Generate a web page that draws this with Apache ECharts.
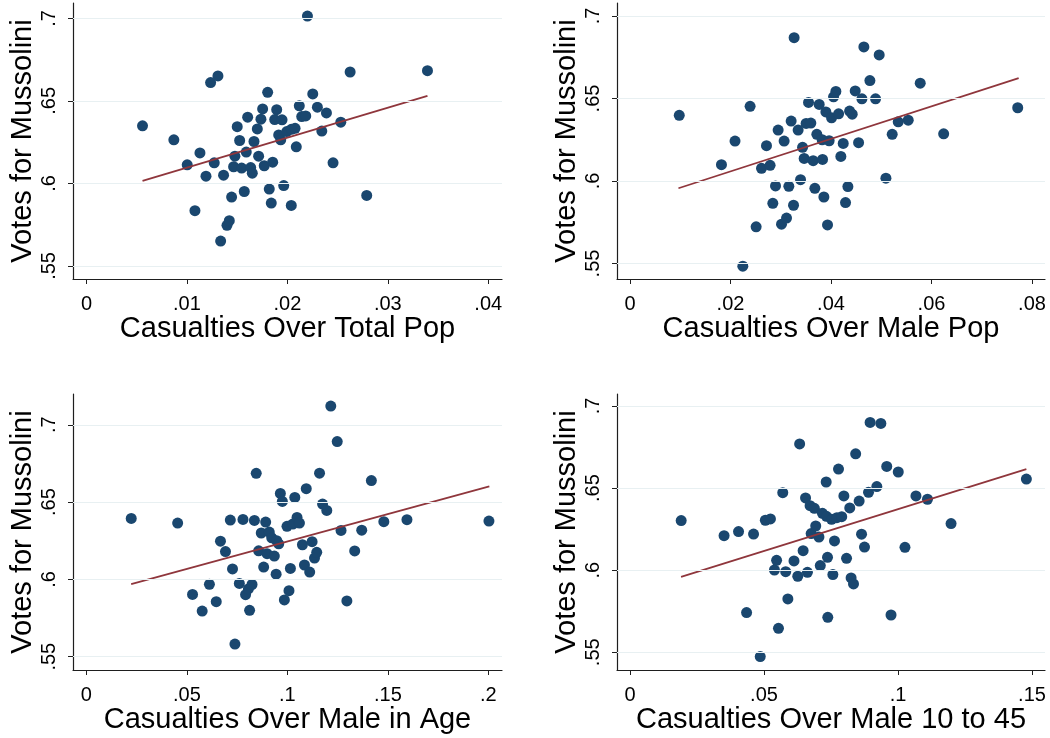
<!DOCTYPE html>
<html>
<head>
<meta charset="utf-8">
<title>Votes for Mussolini vs. war casualties</title>
<script src="https://cdn.jsdelivr.net/npm/echarts@6/dist/echarts.min.js"></script>
<style>
  html, body { margin: 0; padding: 0; background: #ffffff; }
  #chart { width: 1050px; height: 738px; }
</style>
</head>
<body>
<div id="chart"></div>
<script>
// Province-level observations: [casualty share, Mussolini vote share]
const totalPop = [
  [.00558,.6349],[.0087,.6264],[.01003,.6113],[.0113,.6185],[.0119,.6044],[.0108,.5835],
  [.01236,.6611],[.01309,.6651],[.01272,.6125],[.01365,.605],[.01336,.5651],[.01399,.5746],
  [.01422,.5774],[.01445,.5917],[.01465,.6101],[.01478,.6165],[.01501,.6344],[.01525,.626],
  [.01545,.6093],[.01571,.5951],[.01591,.619],[.01605,.6401],[.01635,.6096],[.01651,.6062],
  [.01668,.6254],[.01701,.633],[.01714,.6165],[.01737,.6389],[.01754,.6451],[.0177,.6107],
  [.01804,.6552],[.0182,.5966],[.0184,.5881],[.01854,.6129],[.01874,.6387],[.01894,.6447],
  [.01914,.6294],[.01934,.6264],[.01947,.6385],[.01964,.5987],[.01994,.6314],[.0204,.6328],
  [.02077,.6334],[.02039,.5867],[.02089,.6222],[.02119,.647],[.02143,.6405],[.02183,.6409],
  [.022,.7014],[.02253,.6542],[.02299,.6462],[.02343,.6317],[.02389,.6427],[.02455,.6125],
  [.02532,.6371],[.02625,.6675],[.0279,.5927],[.03395,.6683]
];
const malePop = [
  [.0098,.6398],[.0182,.6099],[.0209,.6242],[.0239,.6453],[.02245,.5484],[.0251,.5722],
  [.02617,.6077],[.02788,.6095],[.02716,.6214],[.02896,.597],[.02842,.5865],[.02948,.6309],
  [.03067,.6242],[.03015,.5738],[.03115,.5775],[.03161,.5968],[.03207,.6363],[.03254,.5853],
  [.03266,.6869],[.03346,.6309],[.03394,.6008],[.03434,.6204],[.03466,.6137],[.03505,.6349],
  [.03599,.6351],[.03553,.6476],[.03645,.6123],[.03679,.5956],[.03718,.6283],[.03765,.6464],
  [.03824,.625],[.03832,.6131],[.03858,.5903],[.03898,.6419],[.03963,.6244],[.04011,.6383],
  [.03931,.5734],[.04051,.651],[.04097,.6543],[.04151,.6407],[.04243,.6228],[.04196,.6149],
  [.04289,.5869],[.04336,.5966],[.0437,.6424],[.04422,.6405],[.04482,.6546],[.04549,.6232],
  [.04615,.6498],[.04654,.6813],[.04774,.6609],[.04887,.6498],[.04959,.6764],[.05093,.6017],
  [.05218,.6283],[.05338,.6359],[.05537,.6369],[.05776,.6593],[.06242,.6286],[.07716,.6444]
];
const maleInAge = [
  [.0223,.6394],[.0454,.6364],[.0528,.5903],[.0576,.5795],[.0612,.5968],[.0646,.5856],
  [.0667,.6247],[.0692,.618],[.0716,.6384],[.0727,.6068],[.0739,.5582],[.0761,.5974],
  [.0779,.6388],[.0792,.5901],[.0806,.5938],[.0812,.58],[.0824,.5967],[.0836,.6381],
  [.0845,.6686],[.0857,.6185],[.087,.63],[.0882,.608],[.0892,.6371],[.0899,.6166],
  [.091,.6306],[.0922,.6269],[.0935,.6151],[.0944,.6034],[.0947,.625],[.0957,.623],
  [.0965,.6556],[.0975,.6504],[.0985,.5867],[.0998,.6343],[.1008,.5927],[.1015,.6071],
  [.1027,.6358],[.1037,.653],[.1048,.6401],[.106,.6364],[.1075,.6224],[.1085,.6093],
  [.1094,.6587],[.1111,.6047],[.1123,.6244],[.1135,.6138],[.1146,.6175],[.116,.6687],
  [.1175,.6487],[.1196,.6446],[.1216,.7121],[.1248,.6891],[.1267,.6317],[.1296,.5861],
  [.1335,.6184],[.137,.6318],[.1418,.6639],[.148,.6373],[.1595,.6386],[.2003,.6377]
];
const male1045 = [
  [.0191,.6302],[.0351,.621],[.0405,.6235],[.0461,.622],[.0435,.5742],[.0486,.5474],
  [.0505,.6304],[.0524,.6312],[.0539,.6001],[.0547,.606],[.0554,.5646],[.057,.6472],
  [.0581,.5991],[.0589,.5825],[.0612,.6056],[.0626,.5963],[.0633,.6769],[.0646,.6119],
  [.0655,.644],[.0662,.5987],[.0672,.6393],[.0676,.6223],[.0688,.6377],[.0693,.6269],
  [.0705,.6202],[.071,.6028],[.0718,.6346],[.0732,.6537],[.0733,.6328],[.0737,.6078],
  [.0738,.5713],[.0752,.631],[.0757,.5973],[.0763,.6178],[.0772,.632],[.0778,.6616],
  [.079,.6326],[.0798,.6452],[.0808,.6072],[.082,.6379],[.0825,.5953],[.0834,.5916],
  [.0842,.6709],[.0855,.6421],[.0864,.6219],[.0875,.6141],[.089,.6474],[.0896,.69],
  [.0921,.6509],[.0936,.6894],[.0958,.6632],[.0974,.5727],[.1001,.6598],[.1026,.6139],
  [.1067,.6452],[.111,.6432],[.1198,.6284],[.1479,.6555]
];

// Linear fit endpoints for each panel
const fitTotalPop  = [[.00558,.6016],[.03395,.6530]];
const fitMalePop   = [[.00964,.5956],[.07735,.6623]];
const fitMaleInAge = [[.02226,.5970],[.20050,.6601]];
const fitMale1045  = [[.01905,.5959],[.14790,.6616]];

// Tick values
const yTicks = [0.55, 0.6, 0.65, 0.7];
const xTicksTotalPop  = [0, .01, .02, .03, .04];
const xTicksMalePop   = [0, .02, .04, .06, .08];
const xTicksMaleInAge = [0, .05, .1, .15, .2];
const xTicksMale1045  = [0, .05, .1, .15];

// Axis extents [min, max]
const xRangeTotalPop  = [-0.00134, 0.04137];
const xRangeMalePop   = [-0.00259, 0.08259];
const xRangeMaleInAge = [-0.00668, 0.2068];
const xRangeMale1045  = [-0.00485, 0.15485];
const yRangeTotalPop  = [0.5421, 0.7093];
const yRangeMalePop   = [0.5406, 0.7079];
const yRangeMaleInAge = [0.5414, 0.7199];
const yRangeMale1045  = [0.5392, 0.7073];

const yTitle = 'Votes for Mussolini';
const xTitles = [
  'Casualties Over Total Pop',
  'Casualties Over Male Pop',
  'Casualties Over Male in Age',
  'Casualties Over Male 10 to 45'
];

const panels = [
  { pts: totalPop,  fit: fitTotalPop,  xt: xTicksTotalPop,  xr: xRangeTotalPop,  yr: yRangeTotalPop },
  { pts: malePop,   fit: fitMalePop,   xt: xTicksMalePop,   xr: xRangeMalePop,   yr: yRangeMalePop },
  { pts: maleInAge, fit: fitMaleInAge, xt: xTicksMaleInAge, xr: xRangeMaleInAge, yr: yRangeMaleInAge },
  { pts: male1045,  fit: fitMale1045,  xt: xTicksMale1045,  xr: xRangeMale1045,  yr: yRangeMale1045 }
];

const FONT = '"Liberation Sans", Arial, Helvetica, sans-serif';
const INK = '#000000';
const AXIS_COLOR = '#1e1e1e';
const DOT = '#1a476f';
const FIT = '#8f363c';
const GRIDLINE = '#e8f0f2';

// Stata-style number labels: drop the leading zero
const stataFmt = v => (v === 0 ? '0' : String(+v.toFixed(4)).replace(/^0\./, '.'));

const grids = [
  { left: 73,  top: 3,   width: 429, height: 276 },
  { left: 617, top: 3,   width: 428, height: 276 },
  { left: 73,  top: 394, width: 429, height: 276 },
  { left: 617, top: 394, width: 428, height: 276 }
];

const xAxes = [], yAxes = [], series = [];
panels.forEach((p, i) => {
  xAxes.push({
    type: 'value', gridIndex: i, min: p.xr[0], max: p.xr[1],
    name: xTitles[i], nameLocation: 'middle', nameGap: 34,
    nameTextStyle: { fontFamily: FONT, fontSize: 29, color: INK },
    axisLine: { show: true, onZero: false, lineStyle: { color: AXIS_COLOR, width: 1.2 } },
    axisTick: { show: true, inside: false, length: 5, customValues: p.xt, lineStyle: { color: AXIS_COLOR } },
    axisLabel: { customValues: p.xt, formatter: stataFmt, margin: 15,
      fontFamily: FONT, fontSize: 20, color: INK, showMinLabel: true, showMaxLabel: true },
    splitLine: { show: false }
  });
  yAxes.push({
    type: 'value', gridIndex: i, min: p.yr[0], max: p.yr[1],
    name: yTitle, nameLocation: 'middle', nameGap: 36, nameRotate: 90,
    nameTextStyle: { fontFamily: FONT, fontSize: 29, color: INK },
    axisLine: { show: true, onZero: false, lineStyle: { color: AXIS_COLOR, width: 1.2 } },
    axisTick: { show: true, inside: false, length: 5, customValues: yTicks, lineStyle: { color: AXIS_COLOR } },
    axisLabel: { customValues: yTicks, formatter: stataFmt, rotate: 90, margin: 14,
      fontFamily: FONT, fontSize: 20, color: INK, showMinLabel: true, showMaxLabel: true },
    splitLine: { show: false }
  });
  // horizontal reference lines at the y ticks
  series.push({
    type: 'line', xAxisIndex: i, yAxisIndex: i, data: [], z: 1, silent: true,
    markLine: {
      silent: true, symbol: 'none', label: { show: false },
      lineStyle: { color: GRIDLINE, width: 1.2, type: 'solid' },
      data: yTicks.map(v => ({ yAxis: v }))
    }
  });
  series.push({
    type: 'scatter', xAxisIndex: i, yAxisIndex: i, data: p.pts, z: 3,
    symbol: 'circle', symbolSize: 11,
    itemStyle: { color: DOT, opacity: 1 }
  });
  series.push({
    type: 'line', xAxisIndex: i, yAxisIndex: i, data: p.fit, z: 4,
    showSymbol: false, symbol: 'none',
    lineStyle: { color: FIT, width: 1.8 }
  });
});

const chart = echarts.init(document.getElementById('chart'), null, { renderer: 'canvas' });
chart.setOption({
  backgroundColor: '#ffffff',
  animation: false,
  grid: grids,
  xAxis: xAxes,
  yAxis: yAxes,
  series: series
});
</script>
</body>
</html>
